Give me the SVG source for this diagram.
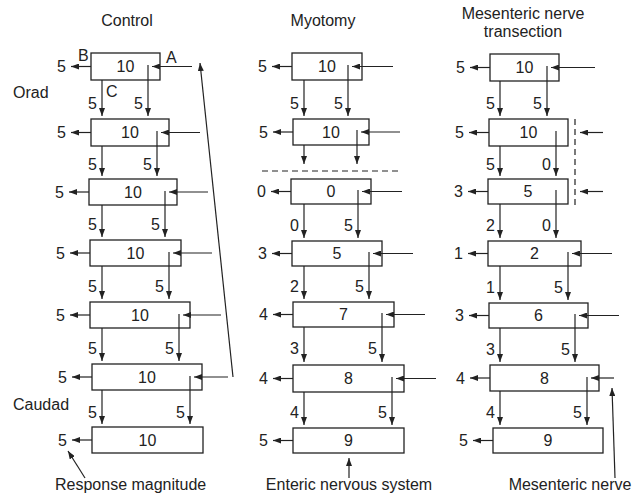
<svg xmlns="http://www.w3.org/2000/svg" width="644" height="497" viewBox="0 0 644 497">
  <style>
    text { font-family: "Liberation Sans", Arial, sans-serif; font-size: 16px; fill: #222; }
    .v { text-anchor: middle; }
    .e { text-anchor: end; }
    .box { fill: #fff; stroke: #222; stroke-width: 1.3; }
    .ln { fill: none; stroke: #222; stroke-width: 1.2; }
    .ar { fill: none; stroke: #222; stroke-width: 1.2; marker-end: url(#ah); }
    .dash { fill: none; stroke: #222; stroke-width: 1.2; stroke-dasharray: 6 4; }
  </style>
  <defs>
    <marker id="ah" markerWidth="8" markerHeight="6" refX="8" refY="3" orient="auto" markerUnits="userSpaceOnUse">
      <path d="M0,0 L8,3 L0,6 z" fill="#222"/>
    </marker>
  </defs>

  <!-- column titles and side labels -->
  <g id="labels">
    <text class="v" x="127" y="26">Control</text>
    <text class="v" x="323" y="26">Myotomy</text>
    <text class="v" x="523" y="19">Mesenteric nerve</text>
    <text class="v" x="523" y="37">transection</text>
    <text x="13" y="98">Orad</text>
    <text x="13" y="410">Caudad</text>
    <text x="78" y="61">B</text>
    <text x="166" y="63">A</text>
    <text x="106" y="97">C</text>
    <text x="55" y="490">Response magnitude</text>
    <text class="v" x="349" y="490">Enteric nervous system</text>
    <text class="v" x="570" y="490">Mesenteric nerve</text>
  </g>

  <!-- Control column segments -->
  <g id="c1"><rect class="box" x="91" y="53" width="69" height="27"/><text class="v" x="125.5" y="72">10</text></g>
  <g id="c2"><rect class="box" x="91" y="119" width="78" height="27"/><text class="v" x="130" y="138">10</text></g>
  <g id="c3"><rect class="box" x="89" y="179" width="88" height="26"/><text class="v" x="133" y="197.5">10</text></g>
  <g id="c4"><rect class="box" x="90" y="240" width="91" height="26"/><text class="v" x="135.5" y="258.5">10</text></g>
  <g id="c5"><rect class="box" x="90" y="302" width="100" height="26"/><text class="v" x="140" y="320.5">10</text></g>
  <g id="c6"><rect class="box" x="92" y="364" width="110" height="26"/><text class="v" x="147" y="382.5">10</text></g>
  <g id="c7"><rect class="box" x="92" y="427" width="111" height="26"/><text class="v" x="147.5" y="445.5">10</text></g>

  <!-- Myotomy column segments -->
  <g id="m1"><rect class="box" x="292" y="53" width="70" height="27"/><text class="v" x="327" y="72">10</text></g>
  <g id="m2"><rect class="box" x="293" y="119" width="76" height="26"/><text class="v" x="331" y="137.5">10</text></g>
  <g id="m3"><rect class="box" x="291" y="179" width="80" height="25"/><text class="v" x="331" y="197">0</text></g>
  <g id="m4"><rect class="box" x="292" y="241" width="90" height="25"/><text class="v" x="337" y="259">5</text></g>
  <g id="m5"><rect class="box" x="293" y="302" width="101" height="25"/><text class="v" x="343.5" y="320">7</text></g>
  <g id="m6"><rect class="box" x="293" y="365" width="111" height="27"/><text class="v" x="348.5" y="384">8</text></g>
  <g id="m7"><rect class="box" x="293" y="428" width="111" height="25"/><text class="v" x="348.5" y="446">9</text></g>

  <!-- Mesenteric nerve transection column segments -->
  <g id="n1"><rect class="box" x="490" y="54" width="69" height="27"/><text class="v" x="524.5" y="73">10</text></g>
  <g id="n2"><rect class="box" x="489" y="119" width="79" height="27"/><text class="v" x="528.5" y="138">10</text></g>
  <g id="n3"><rect class="box" x="488" y="179" width="80" height="25"/><text class="v" x="528" y="197">5</text></g>
  <g id="n4"><rect class="box" x="488" y="241" width="93" height="25"/><text class="v" x="534.5" y="259">2</text></g>
  <g id="n5"><rect class="box" x="489" y="303" width="99" height="25"/><text class="v" x="538.5" y="321">6</text></g>
  <g id="n6"><rect class="box" x="490" y="365" width="109" height="26"/><text class="v" x="544.5" y="383.5">8</text></g>
  <g id="n7"><rect class="box" x="493" y="428" width="110" height="25"/><text class="v" x="548" y="446">9</text></g>

  <!-- connectors -->
  <g id="connectors">
    <!-- Control: outflow -->
    <path class="ar" d="M91,66.5 H71"/><path class="ar" d="M91,132.5 H71"/><path class="ar" d="M89,192 H69"/>
    <path class="ar" d="M90,253 H70"/><path class="ar" d="M90,315 H70"/><path class="ar" d="M92,377 H72"/><path class="ar" d="M92,440 H72"/>
    <!-- Control: descending -->
    <path class="ar" d="M102,80 V116"/><path class="ar" d="M148,65 V116"/>
    <path class="ar" d="M102,146 V176"/><path class="ar" d="M157,131 V176"/>
    <path class="ar" d="M102,205 V237"/><path class="ar" d="M165,191 V237"/>
    <path class="ar" d="M102,266 V299"/><path class="ar" d="M169,252 V299"/>
    <path class="ar" d="M102,328 V361"/><path class="ar" d="M179,314 V361"/>
    <path class="ar" d="M102,390 V424"/><path class="ar" d="M190,376 V424"/>
    <!-- Control: input -->
    <path class="ar" d="M192,66.5 H152"/><path class="ar" d="M200,132.5 H161"/><path class="ar" d="M208,192 H169"/>
    <path class="ar" d="M212,253 H173"/><path class="ar" d="M221,315 H183"/><path class="ar" d="M228,377 H194"/>
    <path class="ar" d="M233,377 L200,63"/>
    <path class="ar" d="M85,478 L68,451"/>

    <!-- Myotomy: outflow -->
    <path class="ar" d="M292,66.5 H272"/><path class="ar" d="M293,132 H273"/><path class="ar" d="M291,191.5 H271"/>
    <path class="ar" d="M292,253.5 H272"/><path class="ar" d="M293,314.5 H273"/><path class="ar" d="M293,378.5 H273"/><path class="ar" d="M293,440.5 H273"/>
    <!-- Myotomy: descending -->
    <path class="ar" d="M304,80 V116"/><path class="ar" d="M348,65 V116"/>
    <path class="ar" d="M304,145 V164"/><path class="ar" d="M357,130 V164"/>
    <path class="ar" d="M304,204 V238"/><path class="ar" d="M358,190 V238"/>
    <path class="ar" d="M304,266 V299"/><path class="ar" d="M369,252 V299"/>
    <path class="ar" d="M304,327 V362"/><path class="ar" d="M382,313 V362"/>
    <path class="ar" d="M304,392 V425"/><path class="ar" d="M392,377 V425"/>
    <!-- Myotomy: input -->
    <path class="ar" d="M393,66.5 H352"/><path class="ar" d="M400,132 H361"/><path class="ar" d="M402,191.5 H362"/>
    <path class="ar" d="M413,253.5 H373"/><path class="ar" d="M425,314.5 H386"/><path class="ar" d="M436,378.5 H396"/>
    <path class="dash" d="M262,171 H402"/>
    <path class="ar" d="M349,478 V458"/>

    <!-- Transection: outflow -->
    <path class="ar" d="M490,67.5 H470"/><path class="ar" d="M489,132.5 H469"/><path class="ar" d="M488,191.5 H468"/>
    <path class="ar" d="M488,253.5 H468"/><path class="ar" d="M489,315.5 H469"/><path class="ar" d="M490,378 H470"/><path class="ar" d="M493,440.5 H473"/>
    <!-- Transection: descending -->
    <path class="ar" d="M500,81 V116"/><path class="ar" d="M547,66 V116"/>
    <path class="ar" d="M500,146 V176"/><path class="ar" d="M556,131 V176"/>
    <path class="ar" d="M500,204 V238"/><path class="ar" d="M556,190 V238"/>
    <path class="ar" d="M500,266 V300"/><path class="ar" d="M568,252 V300"/>
    <path class="ar" d="M500,328 V362"/><path class="ar" d="M575,314 V362"/>
    <path class="ar" d="M500,391 V425"/><path class="ar" d="M587,377 V425"/>
    <!-- Transection: input -->
    <path class="ar" d="M595,67.5 H551"/><path class="ar" d="M603,132.5 H580"/><path class="ar" d="M603,191.5 H580"/>
    <path class="ar" d="M612,253.5 H572"/><path class="ar" d="M619,315.5 H579"/><path class="ar" d="M614,378 H591"/>
    <path class="dash" d="M575,119 V205"/>
    <path class="ar" d="M615,478 L612,388"/>
  </g>

  <!-- response magnitudes -->
  <g id="values">
    <text class="e" x="66" y="72">5</text><text class="e" x="66" y="138">5</text><text class="e" x="64" y="197.5">5</text>
    <text class="e" x="65" y="258.5">5</text><text class="e" x="65" y="320.5">5</text><text class="e" x="67" y="382.5">5</text><text class="e" x="67" y="445.5">5</text>
    <text class="e" x="97" y="109">5</text><text class="e" x="143" y="109">5</text>
    <text class="e" x="97" y="170">5</text><text class="e" x="152" y="170">5</text>
    <text class="e" x="97" y="230">5</text><text class="e" x="160" y="230">5</text>
    <text class="e" x="97" y="292">5</text><text class="e" x="164" y="292">5</text>
    <text class="e" x="97" y="354">5</text><text class="e" x="174" y="354">5</text>
    <text class="e" x="97" y="418">5</text><text class="e" x="185" y="418">5</text>

    <text class="e" x="267" y="72">5</text><text class="e" x="268" y="137.5">5</text><text class="e" x="266" y="197">0</text>
    <text class="e" x="267" y="259">3</text><text class="e" x="268" y="320">4</text><text class="e" x="268" y="384">4</text><text class="e" x="268" y="446">5</text>
    <text class="e" x="299" y="109">5</text><text class="e" x="343" y="109">5</text>
    <text class="e" x="299" y="231">0</text><text class="e" x="353" y="231">5</text>
    <text class="e" x="299" y="292">2</text><text class="e" x="364" y="292">5</text>
    <text class="e" x="299" y="354">3</text><text class="e" x="377" y="354">5</text>
    <text class="e" x="299" y="418">4</text><text class="e" x="387" y="418">5</text>

    <text class="e" x="465" y="73">5</text><text class="e" x="464" y="138">5</text><text class="e" x="463" y="197">3</text>
    <text class="e" x="463" y="259">1</text><text class="e" x="464" y="321">3</text><text class="e" x="465" y="383.5">4</text><text class="e" x="468" y="446">5</text>
    <text class="e" x="495" y="109">5</text><text class="e" x="542" y="109">5</text>
    <text class="e" x="495" y="170">5</text><text class="e" x="551" y="170">0</text>
    <text class="e" x="495" y="231">2</text><text class="e" x="551" y="231">0</text>
    <text class="e" x="495" y="293">1</text><text class="e" x="563" y="293">5</text>
    <text class="e" x="495" y="355">3</text><text class="e" x="570" y="355">5</text>
    <text class="e" x="495" y="418">4</text><text class="e" x="582" y="418">5</text>
  </g>
</svg>
